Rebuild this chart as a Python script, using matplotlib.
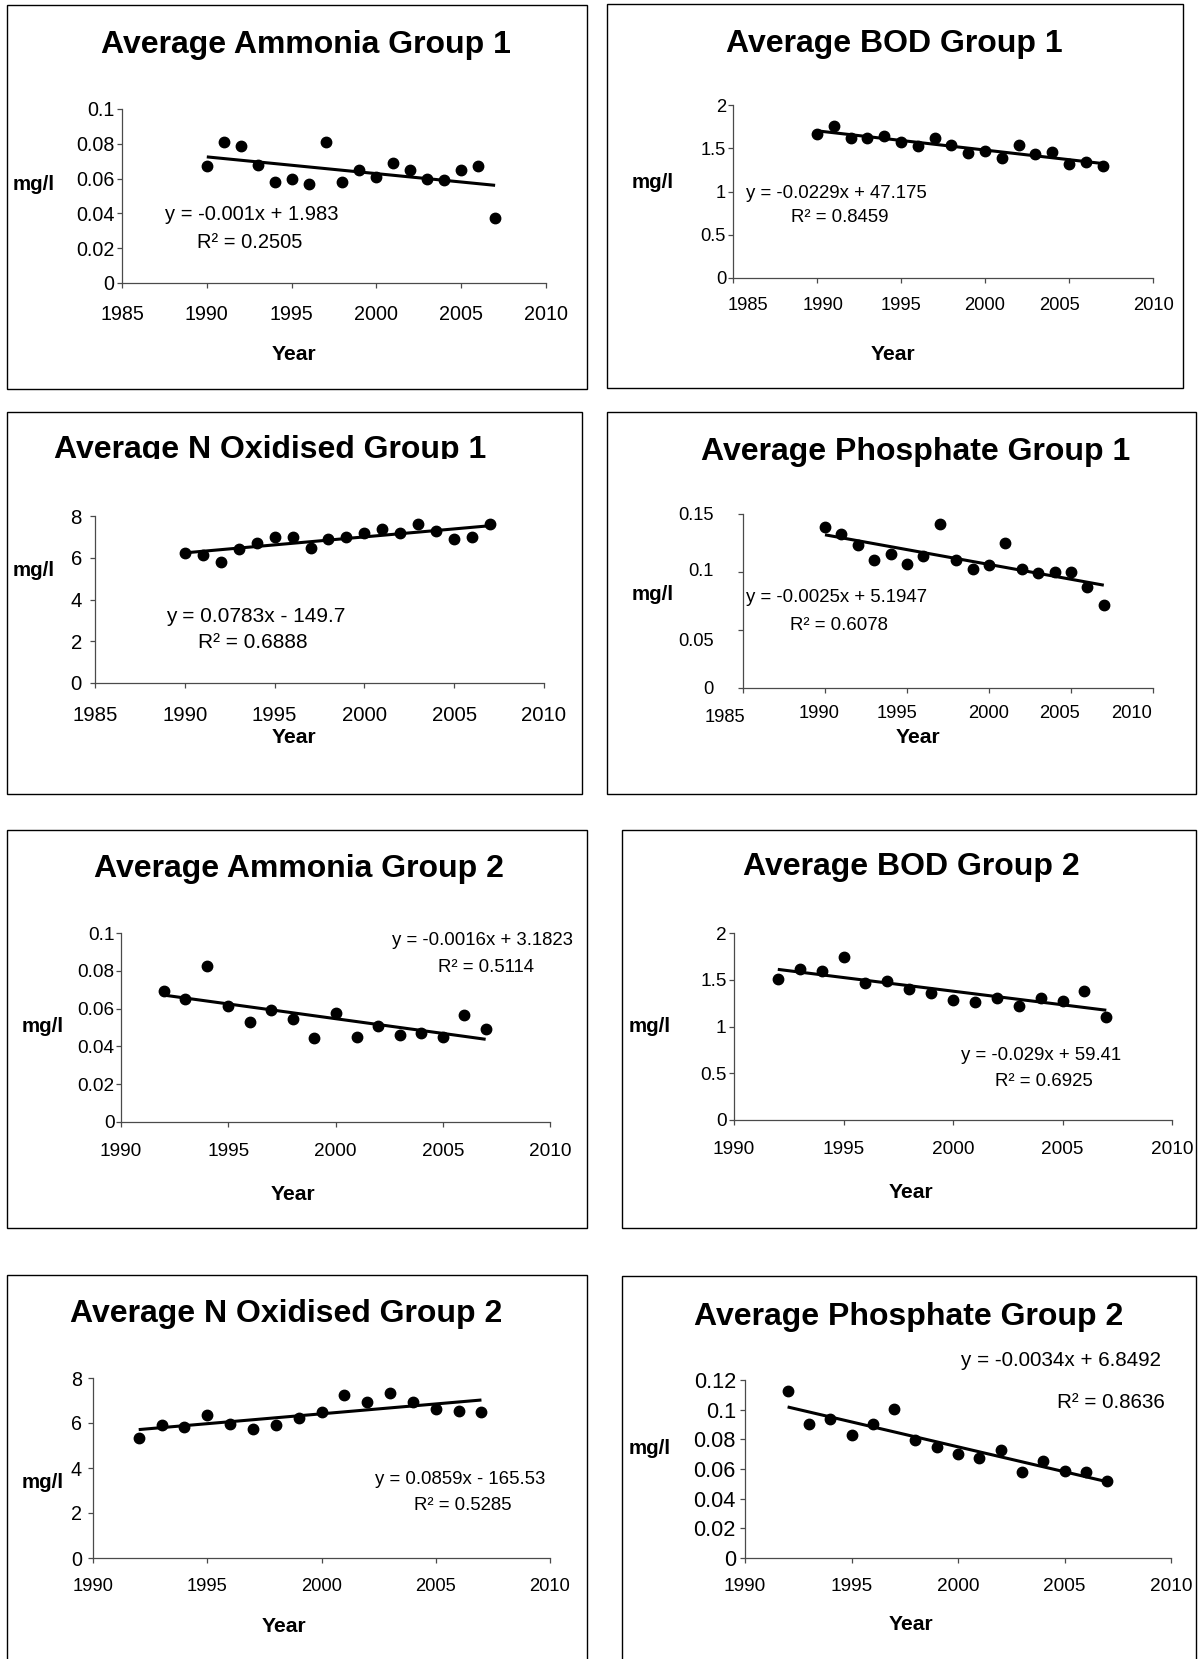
import numpy as np
import matplotlib
matplotlib.use("Agg")
import matplotlib.pyplot as plt
from matplotlib.patches import Rectangle
from matplotlib.transforms import ScaledTranslation

plt.rcParams["font.family"] = ["Liberation Sans", "DejaVu Sans"]

W, H = 1198, 1659

# ── data ──────────────────────────────────────────────────────
years_g1 = [1990, 1991, 1992, 1993, 1994, 1995, 1996, 1997, 1998,
            1999, 2000, 2001, 2002, 2003, 2004, 2005, 2006, 2007]
years_g2 = [1992, 1993, 1994, 1995, 1996, 1997, 1998, 1999,
            2000, 2001, 2002, 2003, 2004, 2005, 2006, 2007]

ammonia_g1 = [0.067, 0.081, 0.079, 0.068, 0.058, 0.060, 0.057, 0.081, 0.058,
              0.065, 0.061, 0.069, 0.065, 0.060, 0.059, 0.065, 0.067, 0.0375]
bod_g1 = [1.67, 1.76, 1.615, 1.615, 1.64, 1.57, 1.53, 1.615, 1.535,
          1.44, 1.465, 1.385, 1.535, 1.435, 1.455, 1.32, 1.34, 1.30]
noxid_g1 = [6.23, 6.12, 5.82, 6.41, 6.71, 7.01, 7.01, 6.49, 6.92,
            7.01, 7.20, 7.36, 7.19, 7.62, 7.27, 6.92, 7.01, 7.62]
phosphate_g1 = [0.1387, 0.1327, 0.1229, 0.1105, 0.1151, 0.1073, 0.1134, 0.1416, 0.1105,
                0.1027, 0.1059, 0.1246, 0.1027, 0.0995, 0.0998, 0.0998, 0.0871, 0.0715]

ammonia_g2 = [0.0694, 0.0651, 0.0825, 0.0614, 0.0527, 0.0595, 0.0547, 0.0442,
              0.0579, 0.0451, 0.0508, 0.0460, 0.0469, 0.0450, 0.0568, 0.0492]
bod_g2 = [1.51, 1.61, 1.59, 1.74, 1.47, 1.49, 1.40, 1.36,
          1.28, 1.26, 1.30, 1.22, 1.30, 1.27, 1.38, 1.10]
noxid_g2 = [5.32, 5.90, 5.82, 6.36, 5.96, 5.74, 5.90, 6.23,
            6.47, 7.26, 6.95, 7.35, 6.95, 6.62, 6.53, 6.47]
phosphate_g2 = [0.1124, 0.0903, 0.0939, 0.0831, 0.0906, 0.1002, 0.0796, 0.0746,
                0.0699, 0.0672, 0.0726, 0.0578, 0.0652, 0.0589, 0.0580, 0.0517]

xticks_g1 = [1985, 1990, 1995, 2000, 2005, 2010]
xticks_g2 = [1990, 1995, 2000, 2005, 2010]
yticks_ammonia = [0, 0.02, 0.04, 0.06, 0.08, 0.1]
ylabels_ammonia = ["0", "0.02", "0.04", "0.06", "0.08", "0.1"]
yticks_bod = [0, 0.5, 1, 1.5, 2]
ylabels_bod = ["0", "0.5", "1", "1.5", "2"]
yticks_noxid = [0, 2, 4, 6, 8]
ylabels_noxid = ["0", "2", "4", "6", "8"]
yticks_phos1 = [0, 0.05, 0.1, 0.15]
ylabels_phos1 = ["0", "0.05", "0.1", "0.15"]
yticks_phos2 = [0, 0.02, 0.04, 0.06, 0.08, 0.1, 0.12]
ylabels_phos2 = ["0", "0.02", "0.04", "0.06", "0.08", "0.1", "0.12"]

# ── panel layout (pixel coordinates, top-left origin) ────────
panels = [
    dict(title="Average Ammonia Group 1", x=years_g1, y=ammonia_g1,
         xticks=xticks_g1, yticks=yticks_ammonia, ylabels=ylabels_ammonia,
         eq="y = -0.001x + 1.983", r2="R² = 0.2505",
         box=(7, 5, 587, 389), ax=(122, 546, 109, 283),
         title_xy=(306, 53), mg_xy=(34, 185), year_xy=(294, 354),
         eq_xy=(252, 215), r2_xy=(250, 242),
         tick_fs=14.2, ytick_fs=14.2, eq_fs=14.5, xpad=12.2, ypad=1.8),
    dict(title="Average BOD Group 1", x=years_g1, y=bod_g1,
         xticks=xticks_g1, yticks=yticks_bod, ylabels=ylabels_bod,
         eq="y = -0.0229x + 47.175", r2="R² = 0.8459",
         box=(607, 4, 1183, 388), ax=(733, 1153, 105, 278),
         title_xy=(894, 52), mg_xy=(653, 183), year_xy=(893, 354),
         eq_xy=(836, 193), r2_xy=(840, 218),
         tick_fs=13.2, ytick_fs=13.2, eq_fs=13.4, xpad=10.4, ypad=1.4,
         xshift={0: (15, 0), 1: (6, 0), 4: (-9, 0)}),
    dict(title="Average N Oxidised Group 1", x=years_g1, y=noxid_g1,
         xticks=xticks_g1, yticks=yticks_noxid, ylabels=ylabels_noxid,
         eq="y = 0.0783x - 149.7", r2="R² = 0.6888",
         box=(7, 412, 582, 794), ax=(95, 544, 516, 683),
         title_xy=(270, 458), mg_xy=(34, 570), year_xy=(294, 738),
         eq_xy=(256, 616), r2_xy=(253, 642),
         tick_fs=14.7, ytick_fs=14.7, eq_fs=15, xpad=12.7, ypad=5.8,
         clip_title=459.5),
    dict(title="Average Phosphate Group 1", x=years_g1, y=phosphate_g1,
         xticks=xticks_g1, yticks=yticks_phos1, ylabels=ylabels_phos1,
         eq="y = -0.0025x + 5.1947", r2="R² = 0.6078",
         box=(607, 412, 1196, 794), ax=(743, 1153, 514, 688),
         title_xy=(916, 460), mg_xy=(653, 594), year_xy=(918, 738),
         eq_xy=(836, 598), r2_xy=(839, 625),
         tick_fs=13.2, ytick_fs=13.2, eq_fs=13.4, xpad=8.9, ypad=17.3,
         xshift={0: (-18, 4), 1: (-6, 0), 2: (-10, 0), 4: (-11, 0), 5: (-21, 0)},
         yshift={1: (0, 10), 2: (0, -3)}),
    dict(title="Average Ammonia Group 2", x=years_g2, y=ammonia_g2,
         xticks=xticks_g2, yticks=yticks_ammonia, ylabels=ylabels_ammonia,
         eq="y = -0.0016x + 3.1823", r2="R² = 0.5114",
         box=(7, 830, 587, 1228), ax=(121, 550, 933, 1122),
         title_xy=(299, 877), mg_xy=(43, 1027), year_xy=(293, 1195),
         eq_xy=(482, 940), r2_xy=(486, 967),
         tick_fs=13.7, ytick_fs=13.7, eq_fs=13.4, xpad=11.6, ypad=1.1),
    dict(title="Average BOD Group 2", x=years_g2, y=bod_g2,
         xticks=xticks_g2, yticks=yticks_bod, ylabels=ylabels_bod,
         eq="y = -0.029x + 59.41", r2="R² = 0.6925",
         box=(622, 830, 1196, 1228), ax=(734, 1172, 933, 1120),
         title_xy=(911, 875), mg_xy=(650, 1027), year_xy=(911, 1193),
         eq_xy=(1041, 1055), r2_xy=(1044, 1082),
         tick_fs=13.7, ytick_fs=13.7, eq_fs=13.4, xpad=11.6, ypad=1.8),
    dict(title="Average N Oxidised Group 2", x=years_g2, y=noxid_g2,
         xticks=xticks_g2, yticks=yticks_noxid, ylabels=ylabels_noxid,
         eq="y = 0.0859x - 165.53", r2="R² = 0.5285",
         box=(7, 1275, 587, 1661), ax=(93, 550, 1378, 1558),
         title_xy=(286, 1322), mg_xy=(43, 1483), year_xy=(284, 1626),
         eq_xy=(460, 1480), r2_xy=(463, 1506),
         tick_fs=13.2, ytick_fs=14.2, eq_fs=13.4, xpad=10.9, ypad=4.3),
    dict(title="Average Phosphate Group 2", x=years_g2, y=phosphate_g2,
         xticks=xticks_g2, yticks=yticks_phos2, ylabels=ylabels_phos2,
         eq="y = -0.0034x + 6.8492", r2="R² = 0.8636",
         box=(622, 1276, 1196, 1661), ax=(745, 1171, 1380, 1558),
         title_xy=(909, 1325), mg_xy=(650, 1448), year_xy=(911, 1625),
         eq_xy=(1061, 1361), r2_xy=(1111, 1402),
         tick_fs=13.7, ytick_fs=15.7, eq_fs=14.9, xpad=10.9, ypad=2.9),
]

fig = plt.figure(figsize=(W / 100, H / 100), dpi=100)
fig.patch.set_facecolor("white")


def ftext(x, y, s, **kw):
    return fig.text(x / W, 1 - y / H, s, **kw)


def frect(x0, y0, x1, y1, **kw):
    r = Rectangle((x0 / W, 1 - y1 / H), (x1 - x0) / W, (y1 - y0) / H,
                  transform=fig.transFigure, **kw)
    fig.add_artist(r)
    return r


def shift_labels(labels, shifts):
    for i, (dx, dy) in shifts.items():
        lbl = labels[i]
        lbl.set_transform(lbl.get_transform() +
                          ScaledTranslation(dx / 100, -dy / 100, fig.dpi_scale_trans))


for p in panels:
    bx0, by0, bx1, by1 = p["box"]
    frect(bx0, by0, bx1, by1, fill=False, ec="black", lw=1.0, zorder=1)

    x0, x1, ytop, ybot = p["ax"]
    ax = fig.add_axes([x0 / W, 1 - ybot / H, (x1 - x0) / W, (ybot - ytop) / H])
    ax.set_facecolor("none")

    xs = np.array(p["x"], dtype=float)
    ys = np.array(p["y"], dtype=float)
    ax.plot(xs, ys, "o", color="black", ms=7.5, zorder=3, clip_on=False)

    # least-squares linear trendline over the data range
    slope, icpt = np.polyfit(xs, ys, 1)
    tx = np.array([xs[0], xs[-1]])
    ax.plot(tx, slope * tx + icpt, color="black", lw=2.2, zorder=2,
            solid_capstyle="butt")

    ax.set_xlim(p["xticks"][0], p["xticks"][-1])
    ax.set_ylim(p["yticks"][0], p["yticks"][-1])
    ax.set_xticks(p["xticks"])
    ax.set_xticklabels([str(t) for t in p["xticks"]])
    ax.set_yticks(p["yticks"])
    ax.set_yticklabels(p["ylabels"])

    for side in ("top", "right"):
        ax.spines[side].set_visible(False)
    for side in ("left", "bottom"):
        ax.spines[side].set_color("#4a4a4a")
        ax.spines[side].set_linewidth(0.9)
    ax.tick_params(axis="both", direction="out", length=3.6, width=0.9,
                   color="#4a4a4a")
    ax.tick_params(axis="x", labelsize=p["tick_fs"], pad=p["xpad"])
    ax.tick_params(axis="y", labelsize=p["ytick_fs"], pad=p["ypad"])

    if "xshift" in p:
        shift_labels(ax.get_xticklabels(), p["xshift"])
    if "yshift" in p:
        shift_labels(ax.get_yticklabels(), p["yshift"])

    tx_, ty_ = p["title_xy"]
    ftext(tx_, ty_, p["title"], ha="center", va="baseline",
          fontsize=23, fontweight="bold", zorder=3)
    if "clip_title" in p:
        # the header is cut off just under its baseline
        cy = p["clip_title"]
        frect(bx0 + 3, cy, bx1 - 3, cy + 18, fc="white", ec="none", zorder=5)

    ftext(*p["mg_xy"], "mg/l", ha="center", va="center",
          fontsize=14.8, fontweight="bold")
    ftext(*p["year_xy"], "Year", ha="center", va="center",
          fontsize=15.2, fontweight="bold")
    ftext(*p["eq_xy"], p["eq"], ha="center", va="center", fontsize=p["eq_fs"])
    ftext(*p["r2_xy"], p["r2"], ha="center", va="center", fontsize=p["eq_fs"])

fig.savefig("out.png", dpi=100, facecolor="white")
